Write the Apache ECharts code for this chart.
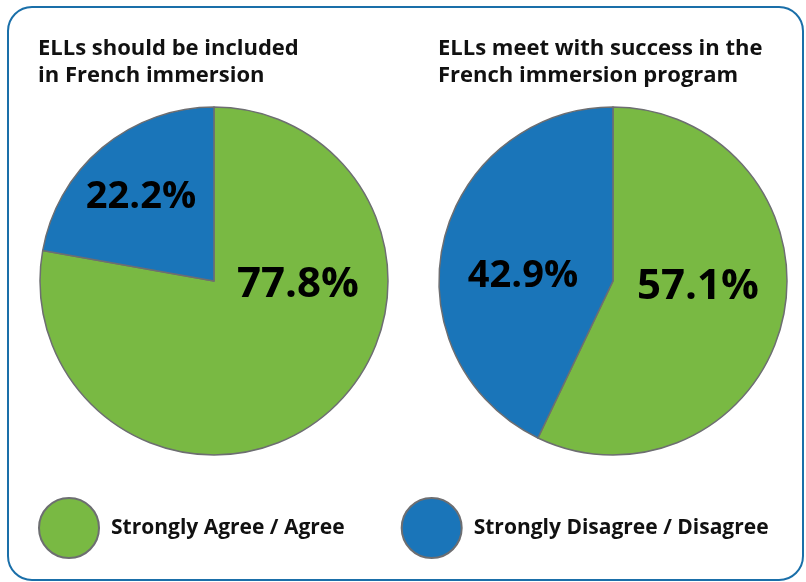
<!DOCTYPE html>
<html><head><meta charset="utf-8">
<script src="https://cdn.jsdelivr.net/npm/echarts@6/dist/echarts.min.js"></script>
<style>html,body{margin:0;padding:0;background:#fff}#c{width:806px;height:582px}</style>
</head><body><div id="c"></div>
<script>
const categories = ['Strongly Agree / Agree', 'Strongly Disagree / Disagree'];
const includedValues = [77.8, 22.2];
const successValues = [57.1, 42.9];
const titles = ['ELLs should be included\nin French immersion', 'ELLs meet with success in the\nFrench immersion program'];
const colors = ['#79b943', '#1a75b9'];
const labelSizes = [42, 38];
const FONT = 'Open Sans';

const chart = echarts.init(document.getElementById('c'));
function mkData(vals){ return vals.map((v,i)=>({name:categories[i], value:v, itemStyle:{color:colors[i]}, label:{fontSize:labelSizes[i]}})); }
function labelPos(positions){
  return function(p){ const q = positions[p.dataIndex]; return {x:q[0], y:q[1], align:'center', verticalAlign:'middle'}; };
}
chart.setOption({
  animation:false,
  title: [
    {text:titles[0], left:38, top:35, padding:0, textStyle:{fontFamily:FONT, fontWeight:'bold', fontSize:22, lineHeight:27, color:'#111'}},
    {text:titles[1], left:438, top:35, padding:0, textStyle:{fontFamily:FONT, fontWeight:'bold', fontSize:22, lineHeight:27, color:'#111'}}
  ],
  legend: {
    data: categories, left:38, top:497, padding:0, itemWidth:60, itemHeight:60, itemGap:56, icon:'circle',
    itemStyle:{borderColor:'#6d6e71', borderWidth:2},
    textStyle:{fontFamily:FONT, fontWeight:'bold', fontSize:21, color:'#111', padding:[0,0,0,7]},
    selectedMode:false
  },
  graphic: [{type:'rect', shape:{x:8, y:7, width:795, height:573, r:24}, style:{fill:null, stroke:'#1a6fa9', lineWidth:2}, silent:true}],
  series: [
    {type:'pie', center:[214,281], radius:[0,174], startAngle:90, clockwise:true, data:mkData(includedValues),
     itemStyle:{borderColor:'#6d6e71', borderWidth:1.5}, silent:true,
     label:{show:true, position:'inside', formatter:p=>p.value.toFixed(1)+'%', fontFamily:FONT, fontWeight:'bold', color:'#000'},
     labelLine:{show:false},
     labelLayout: labelPos([[298,285],[141,197]])
    },
    {type:'pie', center:[613,281], radius:[0,174], startAngle:90, clockwise:true, data:mkData(successValues),
     itemStyle:{borderColor:'#6d6e71', borderWidth:1.5}, silent:true,
     label:{show:true, position:'inside', formatter:p=>p.value.toFixed(1)+'%', fontFamily:FONT, fontWeight:'bold', color:'#000'},
     labelLine:{show:false},
     labelLayout: labelPos([[698,287],[523,276]])
    }
  ]
});
</script></body></html>
